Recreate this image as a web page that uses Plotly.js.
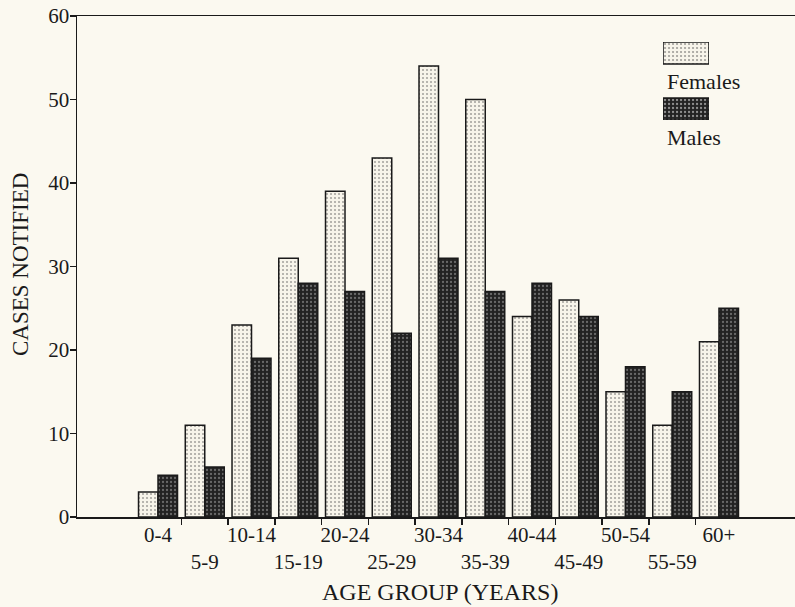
<!DOCTYPE html>
<html>
<head>
<meta charset="utf-8">
<script src="https://cdn.plot.ly/plotly-3.0.1.min.js"></script>
<style>
  html, body { margin: 0; padding: 0; background: #fbf9f0; }
  #chart { width: 795px; height: 607px; }
</style>
</head>
<body>
<div id="chart"></div>
<script>
// ---- data ----
var ageGroups = ['0-4', '5-9', '10-14', '15-19', '20-24', '25-29', '30-34', '35-39', '40-44', '45-49', '50-54', '55-59', '60+'];
var females = [3, 11, 23, 31, 39, 43, 54, 50, 24, 26, 15, 11, 21];
var males   = [5, 6, 19, 28, 27, 22, 31, 27, 28, 24, 18, 15, 25];
var seriesNames = ['Females', 'Males'];
var yTicks = [0, 10, 20, 30, 40, 50, 60];
var xTitle = 'AGE GROUP (YEARS)';
var yTitle = 'CASES NOTIFIED';

// ---- styles ----
var FONT = 'Liberation Serif, Times New Roman, serif';
var INK = '#1a1a1a';
var XRANGE = [-1.733, 13.626];
var femaleStyle = { color: '#f7f4ea', pattern: { shape: '.', fgcolor: '#555555', size: 4, solidity: 0.22, fillmode: 'overlay' } };
var maleStyle   = { color: '#222222', pattern: { shape: '.', fgcolor: '#b0b0b0', size: 4, solidity: 0.25, fillmode: 'overlay' } };

// staggered two-row tick labels
var tickText = ageGroups.map(function (g, i) { return i % 2 === 0 ? g : '<br>' + g; });
// tick marks sit on the inner boundaries between age groups
var boundaryVals = ageGroups.slice(1).map(function (g, i) { return i + 0.5; });

var traces = [
  {
    type: 'bar', name: seriesNames[0], x: ageGroups, y: females,
    marker: { color: femaleStyle.color, pattern: femaleStyle.pattern, line: { color: INK, width: 1.5 } },
    hoverinfo: 'x+y+name'
  },
  {
    type: 'bar', name: seriesNames[1], x: ageGroups, y: males,
    marker: { color: maleStyle.color, pattern: maleStyle.pattern, line: { color: INK, width: 1.5 } },
    hoverinfo: 'x+y+name'
  },
  // empty trace so the boundary-tick helper axis is drawn
  { type: 'scatter', mode: 'markers', x: [], y: [], xaxis: 'x3', yaxis: 'y', hoverinfo: 'skip', showlegend: false },
  // legend swatches drawn on a hidden helper axis
  {
    type: 'bar', orientation: 'h', xaxis: 'x2', yaxis: 'y2',
    x: seriesNames.map(function () { return 1; }),
    y: seriesNames.map(function (n, i) { return seriesNames.length - 1 - i; }),
    width: 0.393,
    marker: {
      color: [femaleStyle.color, maleStyle.color],
      pattern: {
        shape: '.', fillmode: 'overlay',
        fgcolor: [femaleStyle.pattern.fgcolor, maleStyle.pattern.fgcolor],
        size: 4, solidity: [femaleStyle.pattern.solidity, maleStyle.pattern.solidity]
      },
      line: { color: INK, width: 1.5 }
    },
    hoverinfo: 'skip', showlegend: false
  }
];

var layout = {
  width: 795, height: 607,
  paper_bgcolor: '#fbf9f0', plot_bgcolor: 'rgba(0,0,0,0)',
  margin: { l: 77, r: 0, t: 16, b: 90, pad: 0 },
  font: { family: FONT, size: 21, color: INK },
  showlegend: false,
  barmode: 'group', bargap: 0.166, bargroupgap: 0,
  xaxis: {
    type: 'category', categoryorder: 'array', categoryarray: ageGroups,
    range: XRANGE,
    tickmode: 'array', tickvals: ageGroups, ticktext: tickText, tickangle: 0,
    ticks: '', ticklabelstandoff: -2,
    showline: true, linecolor: INK, linewidth: 1.5, mirror: true,
    showgrid: false, zeroline: false,
    tickfont: { family: FONT, size: 21, color: INK }
  },
  xaxis3: {
    overlaying: 'x', anchor: 'y', side: 'bottom', type: 'linear', range: XRANGE,
    tickmode: 'array', tickvals: boundaryVals, showticklabels: false,
    ticks: 'outside', ticklen: 7, tickwidth: 1.5, tickcolor: INK,
    showline: false, showgrid: false, zeroline: false
  },
  yaxis: {
    range: [0, 60], tickmode: 'array', tickvals: yTicks,
    ticks: 'outside', ticklen: 6, tickwidth: 1.5, tickcolor: INK,
    ticklabelstandoff: -4,
    showline: true, linecolor: INK, linewidth: 1.5,
    showgrid: false, zeroline: false,
    tickfont: { family: FONT, size: 21, color: INK }
  },
  xaxis2: { domain: [0.8162, 0.8802], range: [0, 1], visible: false, anchor: 'y2', fixedrange: true },
  yaxis2: { domain: [0.7924, 0.9481], range: [-0.196, 1.196], visible: false, anchor: 'x2', fixedrange: true },
  annotations: [
    { text: xTitle, xref: 'paper', yref: 'paper', x: 0.506, y: -0.15, xanchor: 'center', yanchor: 'middle',
      showarrow: false, font: { family: FONT, size: 24, color: INK } },
    { text: yTitle, xref: 'paper', yref: 'paper', x: -0.078, y: 0.505, xanchor: 'center', yanchor: 'middle',
      textangle: -90, showarrow: false, font: { family: FONT, size: 23, color: INK } },
    { text: seriesNames[0], xref: 'paper', yref: 'paper', x: 0.819, y: 0.8683, xanchor: 'left', yanchor: 'middle',
      showarrow: false, font: { family: FONT, size: 22, color: INK } },
    { text: seriesNames[1], xref: 'paper', yref: 'paper', x: 0.819, y: 0.7565, xanchor: 'left', yanchor: 'middle',
      showarrow: false, font: { family: FONT, size: 22, color: INK } }
  ]
};

Plotly.newPlot('chart', traces, layout, { displayModeBar: false, staticPlot: true });
</script>
</body>
</html>
